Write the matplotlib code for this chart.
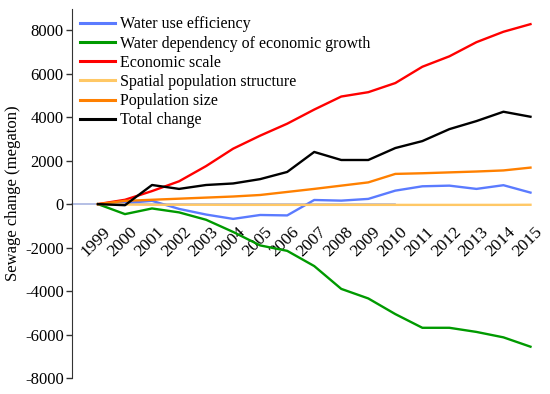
import matplotlib.pyplot as plt
import matplotlib.transforms as mtransforms
import numpy as np

plt.rcParams['font.family'] = ['Liberation Serif', 'DejaVu Serif']
plt.rcParams['axes.unicode_minus'] = False  # plain hyphen like the original

# data (megaton)
years = np.arange(1999, 2016)
water_eff = [0, 50, 150, -220, -480, -680, -500, -520, 190, 160, 240, 620, 820, 850, 700, 870, 530]
water_dep = [0, -460, -200, -380, -720, -1280, -1900, -2150, -2850, -3900, -4340, -5060, -5690, -5690, -5880, -6130, -6560]
econ_scale = [0, 200, 600, 1050, 1750, 2550, 3150, 3700, 4350, 4950, 5150, 5570, 6320, 6800, 7450, 7930, 8280]
spatial_pop = [0, -20, -30, -30, -30, -35, -35, -35, -35, -35, -35, -35, -35, -35, -35, -35, -30]
pop_size = [0, 150, 200, 250, 300, 350, 420, 560, 700, 850, 1000, 1390, 1420, 1460, 1500, 1550, 1680]
total = [0, -50, 880, 700, 880, 950, 1150, 1480, 2400, 2030, 2030, 2580, 2900, 3450, 3820, 4250, 4020]

series = [
    ('Water use efficiency', water_eff, '#5b7bff'),
    ('Water dependency of economic growth', water_dep, '#009a00'),
    ('Economic scale', econ_scale, '#ff0000'),
    ('Spatial population structure', spatial_pop, '#ffc866'),
    ('Population size', pop_size, '#ff8000'),
    ('Total change', total, '#000000'),
]

fig = plt.figure(figsize=(5.5, 3.94), dpi=100)
ax = fig.add_axes([72 / 550, 16 / 394, (544 - 72) / 550, (378 - 8.5) / 394])

for name, vals, col in series:
    ax.plot(years, vals, color=col, linewidth=1.7, label=name)

ax.set_xlim(1998.04, 2015.5)
ax.set_ylim(-8000, 9000)
ax.set_yticks(np.arange(-8000, 8001, 2000))
ax.set_xticks(years)

# spines
for s in ['top', 'right']:
    ax.spines[s].set_visible(False)
ax.spines['left'].set_color('#333333')
ax.spines['bottom'].set_position(('data', 0))
ax.spines['bottom'].set_color('#a8b4e0')
ax.spines['bottom'].set_linewidth(1.2)
ax.spines['bottom'].set_bounds(1998.04, 2010)
ax.spines['bottom'].set_zorder(0)

ax.tick_params(axis='y', direction='out', length=4, width=1, color='#333333', labelsize=12, pad=2)
ax.tick_params(axis='x', length=0, labelsize=12.5, pad=8)

offset = mtransforms.ScaledTranslation(4 / 100, -9 / 100, fig.dpi_scale_trans)
for lab in ax.get_xticklabels():
    lab.set_rotation(45)
    lab.set_ha('right')
    lab.set_va('top')
    lab.set_rotation_mode('anchor')
    lab.set_transform(lab.get_transform() + offset)

ax.set_ylabel('Sewage change (megaton)', fontsize=12, labelpad=3)

leg = ax.legend(loc='upper left', bbox_to_anchor=(0.0, 1.0), frameon=False,
                fontsize=11.5, handlelength=2.2, handletextpad=0.3,
                labelspacing=0.2, borderaxespad=0.1)
for line in leg.get_lines():
    line.set_linewidth(2.2)

fig.savefig('out.png', dpi=100)
